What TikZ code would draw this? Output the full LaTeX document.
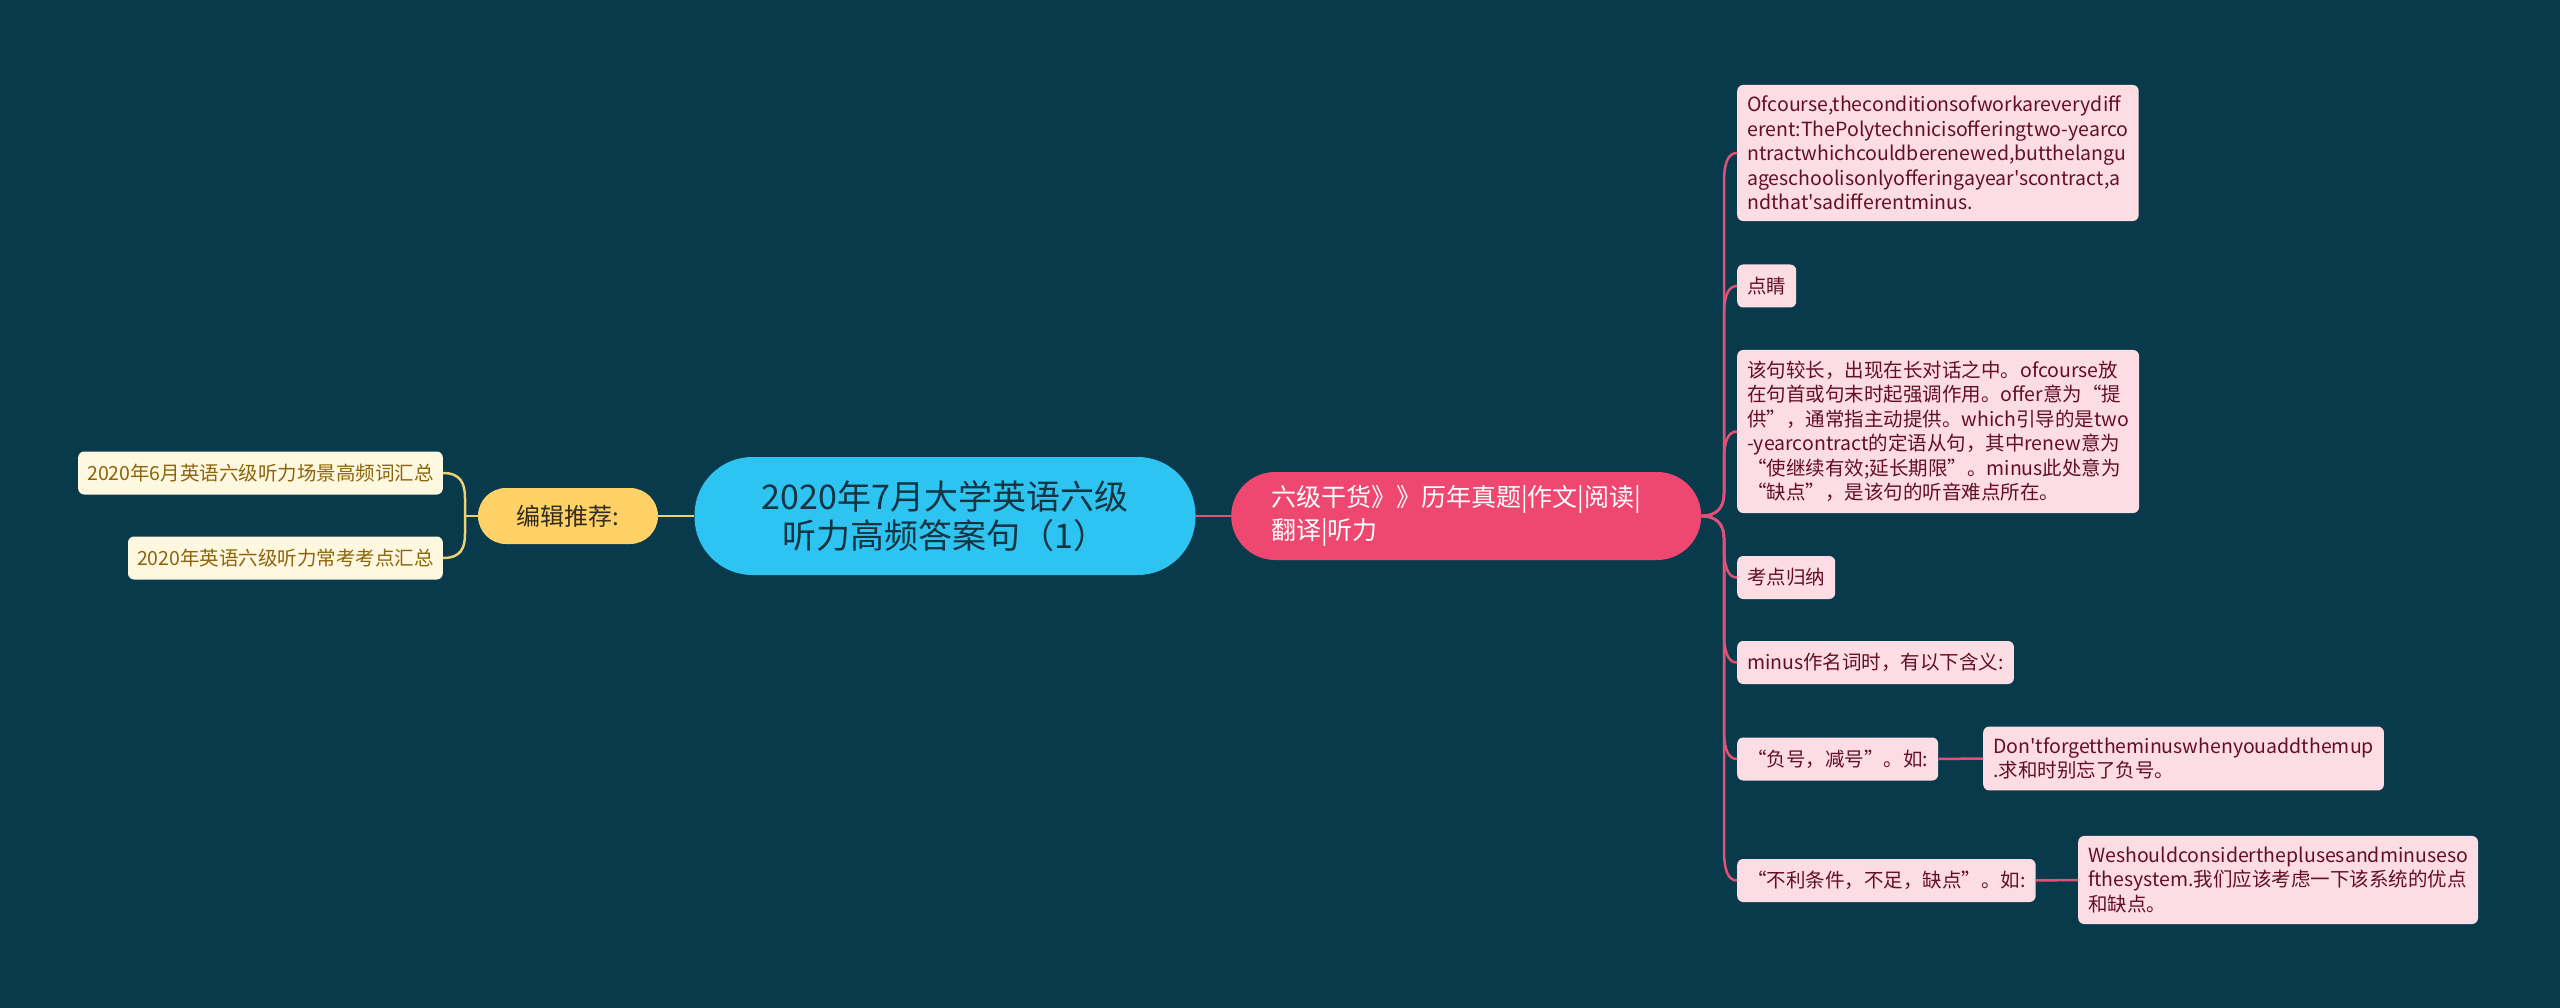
\documentclass[tikz,border=0pt]{standalone}
\usepackage{fontspec}
\setmainfont{Noto Sans CJK SC}[Ligatures=TeXOff]
\definecolor{bg}{RGB}{8,58,76}
\definecolor{rootblue}{RGB}{46,196,242}
\definecolor{roottext}{RGB}{20,52,66}
\definecolor{branchpink}{RGB}{238,72,112}
\definecolor{yelnode}{RGB}{255,209,102}
\definecolor{yeltext}{RGB}{50,45,30}
\definecolor{leafpink}{RGB}{252,221,227}
\definecolor{leaftext}{RGB}{100,14,40}
\definecolor{cream}{RGB}{255,248,225}
\definecolor{goldtext}{RGB}{140,100,10}
\definecolor{linkpink}{RGB}{222,82,120}
\definecolor{linkyellow}{RGB}{236,208,118}
\tikzset{
  rootnode/.style={fill=rootblue, text=roottext, rounded corners=58pt, minimum width=501pt, minimum height=118pt, align=center, inner sep=0pt, font=\fontsize{34}{39}\selectfont},
  branchnode/.style={fill=branchpink, text=white, rounded corners=44pt, minimum width=470pt, minimum height=88pt, align=left, text width=390pt, inner xsep=40pt, inner ysep=0pt, font=\fontsize{25}{33}\selectfont},
  yelbox/.style={fill=yelnode, text=yeltext, rounded corners=28pt, minimum width=180pt, minimum height=56pt, inner sep=0pt, font=\fontsize{24}{30}\selectfont},
  rleaf/.style={fill=leafpink, text=leaftext, rounded corners=6pt, align=left, inner xsep=10pt, inner ysep=11pt, minimum height=43pt, font=\fontsize{19.5}{24.5}\selectfont, anchor=west},
  lleaf/.style={fill=cream, text=goldtext, rounded corners=6pt, inner xsep=9pt, inner ysep=0pt, minimum height=43pt, font=\fontsize{19.5}{24.5}\selectfont, anchor=east},
  rlink/.style={draw=linkpink, line width=2.5pt},
  llink/.style={draw=linkyellow, line width=2.5pt},
}
\begin{document}
\begin{tikzpicture}[x=1pt,y=-1pt]
\fill[bg] (0,0) rectangle (2560,1008);
\useasboundingbox (0,0) rectangle (2560,1008);

% main nodes
\node[rootnode] (root) at (945,516) {2020年7月大学英语六级\\听力高频答案句（1）};
\node[branchnode, anchor=west] (br) at (1231,516) {六级干货》》历年真题|作文|阅读|\\翻译|听力};
\node[yelbox] (yl) at (568,516) {编辑推荐:};

% left leaves
\node[lleaf] (ll1) at (443,473) {2020年6月英语六级听力场景高频词汇总};
\node[lleaf] (ll2) at (443,558) {2020年英语六级听力常考考点汇总};

% right leaves
\node[rleaf] (r1) at (1737,153) {Ofcourse,theconditionsofworkareverydiff\\erent:ThePolytechnicisofferingtwo-yearco\\ntractwhichcouldberenewed,butthelangu\\ageschoolisonlyofferingayear'scontract,a\\ndthat'sadifferentminus.};
\node[rleaf] (r2) at (1737,286) {点睛};
\node[rleaf] (r3) at (1737,431.5) {该句较长，出现在长对话之中。ofcourse放\\在句首或句末时起强调作用。offer意为“提\\供”，通常指主动提供。which引导的是two\\-yearcontract的定语从句，其中renew意为\\“使继续有效;延长期限”。minus此处意为\\“缺点”，是该句的听音难点所在。};
\node[rleaf] (r4) at (1737,577.5) {考点归纳};
\node[rleaf] (r5) at (1737,662.5) {minus作名词时，有以下含义:};
\node[rleaf] (r6) at (1737,759) {“负号，减号”。如:};
\node[rleaf] (r7) at (1737,880.5) {“不利条件，不足，缺点”。如:};
\node[rleaf] (r6a) at (1983,758.5) {Don'tforgettheminuswhenyouaddthemup\\.求和时别忘了负号。};
\node[rleaf] (r7a) at (2078,880) {Weshouldconsidertheplusesandminuseso\\fthesystem.我们应该考虑一下该系统的优点\\和缺点。};

% connectors
\draw[llink] (root.west) -- (yl.east);
\draw[rlink] (root.east) -- (br.west);
\draw[llink] (yl.west) -- (465,516);
\draw[llink] (ll1.east) .. controls (461,473) and (465,484) .. (465,498) -- (465,534) .. controls (465,548) and (461,558) .. (ll2.east);

\draw[rlink] (br.east) .. controls (1716,516) and (1724,508) .. (1724,494) -- (1724,183) .. controls (1724,163) and (1728,153) .. (r1.west);
\draw[rlink] (br.east) .. controls (1716,516) and (1724,508) .. (1724,494) -- (1724,316) .. controls (1724,296) and (1728,286) .. (r2.west);
\draw[rlink] (br.east) .. controls (1716,516) and (1724,508) .. (1724,494) -- (1724,461) .. controls (1724,441) and (1728,431.5) .. (r3.west);
\draw[rlink] (br.east) .. controls (1716,516) and (1724,524) .. (1724,538) -- (1724,547) .. controls (1724,567) and (1728,577.5) .. (r4.west);
\draw[rlink] (br.east) .. controls (1716,516) and (1724,524) .. (1724,538) -- (1724,632) .. controls (1724,652) and (1728,662.5) .. (r5.west);
\draw[rlink] (br.east) .. controls (1716,516) and (1724,524) .. (1724,538) -- (1724,729) .. controls (1724,749) and (1728,759) .. (r6.west);
\draw[rlink] (br.east) .. controls (1716,516) and (1724,524) .. (1724,538) -- (1724,850) .. controls (1724,870) and (1728,880.5) .. (r7.west);
\draw[rlink] (r6.east) -- (r6a.west);
\draw[rlink] (r7.east) -- (r7a.west);
\end{tikzpicture}
\end{document}
